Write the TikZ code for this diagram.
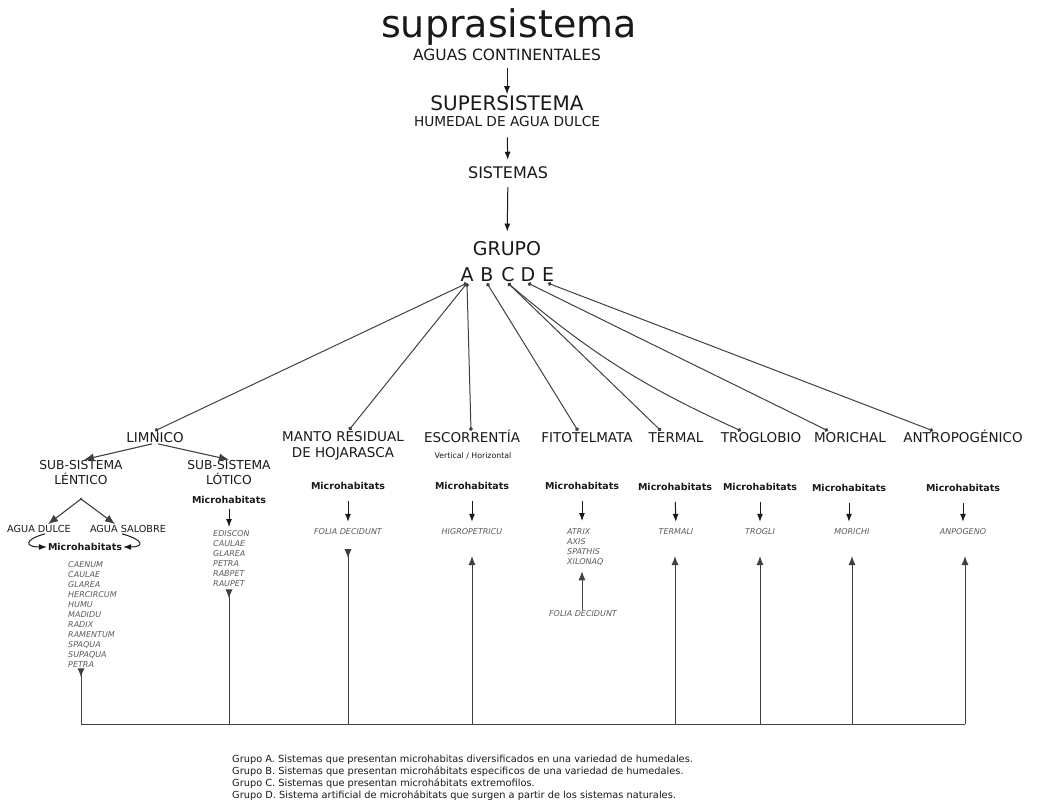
\documentclass[tikz,border=0pt]{standalone}
\usepackage{fontspec}
\setmainfont{DejaVu Sans}
\usepackage{tikz}
\usetikzlibrary{arrows.meta}

\definecolor{ink}{gray}{0.1}
\definecolor{wire}{gray}{0.25}
\definecolor{taxgray}{gray}{0.35}

% font size with its line skip
\newcommand{\fsz}[2]{\fontsize{#1}{#2}\selectfont}

\begin{document}
\begin{tikzpicture}[x=1pt,y=1pt,
  every node/.style={text=ink,inner sep=1pt},
  head/.style={font=\fsz{13.5}{16},text height=10pt,text depth=0pt,anchor=base},
  subsys/.style={font=\fsz{12.3}{15},align=center},
  water/.style={font=\fsz{9.7}{11}},
  micro/.style={font=\bfseries\fsz{9.5}{11}},
  taxa/.style={font=\itshape\fsz{8}{10},text=taxgray,align=left},
  link/.style={draw=wire,line width=1pt,{Circle[length=3.8pt]}-{Circle[length=3.8pt]}},
  down/.style={draw=ink,line width=1pt,-{Latex[length=8pt,width=6pt]}},
  split/.style={draw=wire,line width=1.1pt,-{Latex[length=10pt,width=8pt]}},
  pointer/.style={down,shorten <=10pt,shorten >=6pt},
  feed/.style={draw=wire,line width=1pt,-{Latex[length=9pt,width=7pt]}},
  feedback/.style={draw=wire,line width=1pt,-{Latex[length=9pt,width=7pt,reversed]}}]
\useasboundingbox (0,0) rectangle (1037,-808);

% top of the hierarchy
\node[font=\fsz{38}{40}] (supra) at (509,-27) {suprasistema};
\node[font=\fsz{15.5}{17}] (aguas) at (507,-55) {AGUAS CONTINENTALES};
\node[font=\fsz{20}{22}] (super) at (507,-103) {SUPERSISTEMA};
\node[font=\fsz{13.7}{15}] (humedal) at (507,-122) {HUMEDAL DE AGUA DULCE};
\node[font=\fsz{16}{18}] (sist) at (508,-173) {SISTEMAS};
\node[font=\fsz{19}{21}] (grupo) at (507,-249) {GRUPO};
\foreach \g/\x in {A/467,B/487,C/508,D/528,E/548}
  \node[font=\fsz{19}{21},text height=14pt,text depth=0pt,inner sep=2pt] (g\g) at (\x,-274) {\g};

\draw[down,shorten <=6pt] (aguas) -- (super);
\draw[down,shorten <=9pt,shorten >=6pt] (humedal) -- (sist);
\draw[down,shorten <=7pt,shorten >=9pt] (sist) -- (grupo);

% sistemas
\node[head] (limnico) at (155,-442) {LIMNICO};
\node[font=\fsz{13.5}{16},align=center,anchor=north] (manto) at (343,-430) {MANTO RESIDUAL\\DE HOJARASCA};
\node[head] (escorr) at (472,-442) {ESCORRENTÍA};
\node[head] (fito) at (587,-442) {FITOTELMATA};
\node[head] (termal) at (676,-442) {TERMAL};
\node[head] (troglo) at (761,-442) {TROGLOBIO};
\node[head] (morichal) at (850,-442) {MORICHAL};
\node[head] (antro) at (963,-442) {ANTROPOGÉNICO};

\draw[link] (gA.south) -- (limnico.north);
\draw[link] (gA.south) -- ([xshift=6pt]manto.north);
\draw[link] (gA.south) -- ([xshift=-1pt]escorr.north);
\draw[link] (gB.south) -- ([xshift=-9pt]fito.north);
\draw[link] (gC.south) -- ([xshift=-15pt]termal.north);
\draw[link] (gC.south) to[bend right=8] ([xshift=-20pt]troglo.north);
\draw[link] (gD.south) -- ([xshift=-22pt]morichal.north);
\draw[link] (gE.south) -- ([xshift=-30pt]antro.north);

% limnico
\node[subsys] (lentico) at (81,-473) {SUB-SISTEMA\\LÉNTICO};
\node[subsys] (lotico) at (229,-473) {SUB-SISTEMA\\LÓTICO};
\draw[split,shorten <=3pt] (limnico.south) -- ([xshift=3pt]lentico.north);
\draw[split,shorten <=3pt] (limnico.south) -- (lotico.north);

\coordinate (fork) at (81,-499);
\fill[wire] (fork) circle (1.4pt);
\node[water] (dulce) at (39,-529) {AGUA DULCE};
\node[water] (salobre) at (128,-529) {AGUA SALOBRE};
\draw[split] (fork) -- ([xshift=9pt]dulce.north);
\draw[split] (fork) -- ([xshift=-13pt]salobre.north);
\node[micro] (mlen) at (85,-547) {Microhabitats};
\draw[down] ([xshift=6pt]dulce.south) to[out=195,in=180,distance=22pt] (mlen.west);
\draw[down] ([xshift=-6pt]salobre.south) to[out=-15,in=0,distance=22pt] (mlen.east);
\node[taxa,anchor=north west] (tlen) at (67,-560) {CAENUM\\CAULAE\\GLAREA\\HERCIRCUM\\HUMU\\MADIDU\\RADIX\\RAMENTUM\\SPAQUA\\SUPAQUA\\PETRA};

\node[micro] (mlot) at (229,-500) {Microhabitats};
\node[taxa,anchor=north west] (tlot) at (212,-529) {EDISCON\\CAULAE\\GLAREA\\PETRA\\RABPET\\RAUPET};
\draw[down,shorten <=4pt,shorten >=2pt] (mlot) -- (mlot |- tlot.north);

% manto and escorrentia
\node[micro] (mman) at (348,-486) {Microhabitats};
\node[taxa] (tman) at (348,-532) {FOLIA DECIDUNT};
\draw[pointer] (mman) -- (tman);

\node[font=\fsz{7.8}{9}] (vh) at (473,-456) {Vertical / Horizontal};
\node[micro] (mesc) at (472,-486) {Microhabitats};
\node[taxa] (tesc) at (472,-532) {HIGROPETRICU};
\draw[pointer] (mesc) -- (tesc);

% fitotelmata
\node[micro] (mfit) at (582,-486) {Microhabitats};
\node[taxa,anchor=north west] (tfit) at (566,-527) {ATRIX\\AXIS\\SPATHIS\\XILONAQ};
\node[taxa] (tfit2) at (583,-614) {FOLIA DECIDUNT};
\draw[pointer] (mfit) -- (mfit |- tfit.north);
\draw[feed,shorten >=5pt] (tfit2.north -| mfit) -- (mfit |- tfit.south);

% termal, troglobio, morichal, antropogenico
\node[micro] (mter) at (675,-487) {Microhabitats};
\node[taxa] (tter) at (676,-532) {TERMALI};
\draw[pointer] (mter) -- (tter);
\node[micro] (mtro) at (760,-487) {Microhabitats};
\node[taxa] (ttro) at (760,-532) {TROGLI};
\draw[pointer] (mtro) -- (ttro);
\node[micro] (mmor) at (849,-488) {Microhabitats};
\node[taxa] (tmor) at (852,-532) {MORICHI};
\draw[pointer] (mmor) -- (mmor |- tmor.north);
\node[micro] (mant) at (963,-488) {Microhabitats};
\node[taxa] (tant) at (963,-532) {ANPOGENO};
\draw[pointer] (mant) -- (tant);

% bottom bus
\coordinate (busL) at (81,-724);
\coordinate (busR) at (965,-724);
\coordinate (tiprow) at (0,-556);
\draw[wire,line width=1pt] (busL) -- (busR);
\draw[feedback] (busL) -- (busL |- tlen.south);
\draw[feedback,shorten >=2pt] (mlot |- busL) -- (mlot |- tlot.south);
\draw[feedback,shorten >=13pt] (mman |- busL) -- (mman |- tman.south);
\draw[feed] (mesc |- busL) -- (mesc |- tiprow);
\draw[feed] (mter |- busL) -- (mter |- tiprow);
\draw[feed] (mtro |- busL) -- (mtro |- tiprow);
\draw[feed] (tmor |- busL) -- (tmor |- tiprow);
\draw[feed] (busR) -- (busR |- tiprow);

% legend
\node[font=\fsz{9.8}{12},align=left,anchor=north west] (legend) at (231,-754.2) {Grupo A. Sistemas que presentan microhabitas diversificados en una variedad de humedales.\\
Grupo B. Sistemas que presentan microhábitats especificos de una variedad de humedales.\\
Grupo C. Sistemas que presentan microhábitats extremofilos.\\
Grupo D. Sistema artificial de microhábitats que surgen a partir de los sistemas naturales.};
\end{tikzpicture}
\end{document}
